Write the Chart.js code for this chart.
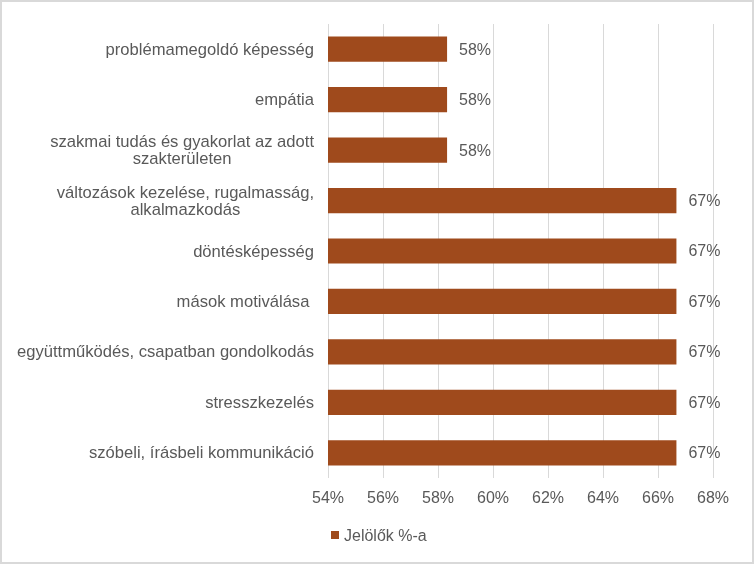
<!DOCTYPE html>
<html>
<head>
<meta charset="utf-8">
<script src="https://cdn.jsdelivr.net/npm/chart.js@4.4.1/dist/chart.umd.min.js"></script>
<style>
  body { margin: 0; background: #fff; }
  #wrap { width: 754px; height: 564px; }
</style>
</head>
<body>
<div id="wrap"><canvas id="grafico" width="754" height="564"></canvas></div>
<script>
// adatok
const categories = [
  'problémamegoldó képesség',
  'empátia',
  ['szakmai tudás és gyakorlat az adott', 'szakterületen'],
  ['változások kezelése, rugalmasság,', 'alkalmazkodás'],
  'döntésképesség',
  'mások motiválása ',
  'együttműködés, csapatban gondolkodás',
  'stresszkezelés',
  'szóbeli, írásbeli kommunikáció'
]
const values = [58.33, 58.33, 58.33, 66.67, 66.67, 66.67, 66.67, 66.67, 66.67]
const seriesName = 'Jelölők %-a'
const xMin = 54
const xMax = 68
const xStep = 2

const textColor = '#595959'
const barColor = '#9F4A1C'
const fontFamily = '"Liberation Sans", Arial, sans-serif'

// hatter + keret
const background = {
  id: 'background',
  beforeDraw(chart) {
    const ctx = chart.ctx
    ctx.save()
    ctx.fillStyle = '#fff'
    ctx.fillRect(0, 0, chart.width, chart.height)
    ctx.strokeStyle = '#d9d9d9'
    ctx.lineWidth = 2
    ctx.strokeRect(1, 1, chart.width - 2, chart.height - 2)
    ctx.restore()
  }
}

// kategoria cimkek (tobbsoros: blokk jobbra, sorok kozepre)
const yLabels = {
  id: 'yLabels',
  afterDraw(chart) {
    const ctx = chart.ctx
    const scale = chart.scales.y
    const rightX = scale.right - 14
    ctx.save()
    ctx.font = '16.6px ' + fontFamily
    ctx.fillStyle = textColor
    ctx.textBaseline = 'middle'
    ctx.textAlign = 'center'
    const lineH = 17
    chart.data.labels.forEach((lab, i) => {
      const lines = Array.isArray(lab) ? lab : [lab]
      const w = Math.max(...lines.map(l => ctx.measureText(l).width))
      const cx = rightX - w / 2
      const y0 = scale.getPixelForValue(i) + 1 - (lines.length - 1) * lineH / 2
      lines.forEach((l, k) => ctx.fillText(l, cx, y0 + k * lineH))
    })
    ctx.restore()
  }
}

// ertekcimkek
const dataLabels = {
  id: 'dataLabels',
  afterDatasetsDraw(chart) {
    const ctx = chart.ctx
    ctx.save()
    ctx.font = '16px ' + fontFamily
    ctx.fillStyle = textColor
    ctx.textAlign = 'left'
    ctx.textBaseline = 'middle'
    const meta = chart.getDatasetMeta(0)
    meta.data.forEach((bar, i) => {
      const v = chart.data.datasets[0].data[i]
      ctx.fillText(Math.round(v) + '%', bar.x + 12, bar.y + 1)
    })
    ctx.restore()
  }
}

// jelmagyarazat
const legendBox = {
  id: 'legendBox',
  afterDraw(chart) {
    const ctx = chart.ctx
    const ds = chart.data.datasets[0]
    const x = chart.chartArea.left + 3
    const y = 535
    ctx.save()
    ctx.fillStyle = ds.backgroundColor
    ctx.fillRect(x, y - 4, 8, 8)
    ctx.font = '16px ' + fontFamily
    ctx.fillStyle = textColor
    ctx.textAlign = 'left'
    ctx.textBaseline = 'middle'
    ctx.fillText(ds.label, x + 13, y + 2)
    ctx.restore()
  }
}

const ctx = document.getElementById('grafico')

const data = {
  labels: categories,
  datasets: [{
    label: seriesName,
    data: values,
    backgroundColor: barColor,
    borderWidth: 0,
    barPercentage: 0.5,
    categoryPercentage: 1
  }]
}

const config = {
  type: 'bar',
  data,
  options: {
    indexAxis: 'y',
    responsive: false,
    animation: false,
    devicePixelRatio: 1,
    layout: {
      padding: { top: 24, right: 41, bottom: 56, left: 0 }
    },
    plugins: {
      legend: { display: false },
      tooltip: { enabled: false }
    },
    scales: {
      x: {
        min: xMin,
        max: xMax,
        ticks: {
          stepSize: xStep,
          color: textColor,
          font: { size: 16, family: fontFamily },
          padding: 11,
          callback: v => v + '%'
        },
        grid: { color: '#d9d9d9', drawTicks: false },
        border: { display: false },
        afterFit(scale) { scale.height = 30 }
      },
      y: {
        ticks: { display: false },
        grid: { display: false },
        border: { display: false },
        afterFit(scale) { scale.width = 328 }
      }
    }
  },
  plugins: [background, yLabels, dataLabels, legendBox]
}

const graph = new Chart(ctx, config)
</script>
</body>
</html>
